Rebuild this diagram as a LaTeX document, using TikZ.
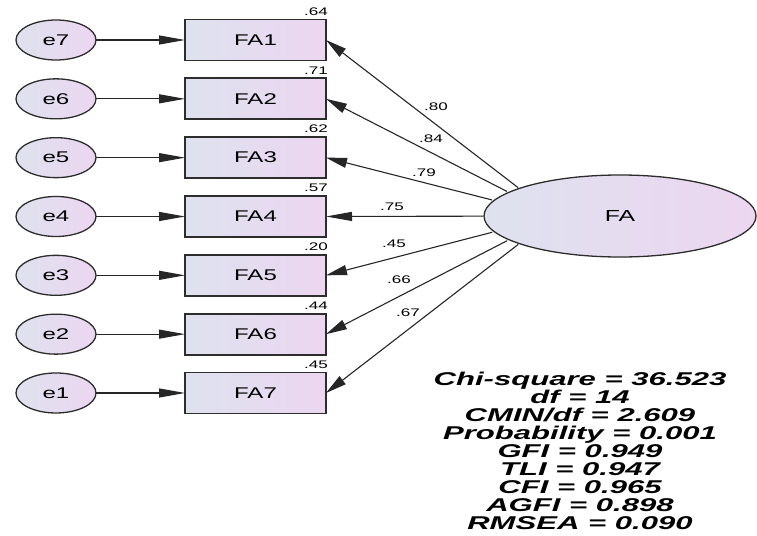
\documentclass[tikz,border=0pt]{standalone}
\usepackage{fontspec}
\setmainfont{Liberation Sans}
\newfontfamily\wide[FakeStretch=1.55]{Liberation Sans}
\newfontfamily\statwide[FakeStretch=1.68]{Liberation Sans}
\usetikzlibrary{shapes.geometric,arrows.meta}
\definecolor{fl}{RGB}{222,226,239}
\definecolor{fr}{RGB}{236,214,240}
\definecolor{edgec}{RGB}{45,45,45}
\tikzset{
  err/.style={ellipse, draw=edgec, line width=1.3pt, left color=fl, right color=fr,
    minimum width=80pt, minimum height=40pt, inner sep=0pt, outer sep=0pt,
    font=\wide\fontsize{15.5}{15.5}\selectfont},
  obs/.style={rectangle, draw=edgec, line width=1.8pt, left color=fl, right color=fr,
    minimum width=141pt, minimum height=41pt, inner sep=0pt, outer sep=0pt,
    font=\wide\fontsize{15.5}{15.5}\selectfont},
  lat/.style={ellipse, draw=edgec, line width=1.3pt, left color=fl, right color=fr,
    minimum width=272pt, minimum height=82pt, inner sep=0pt, outer sep=0pt,
    font=\wide\fontsize{16}{16}\selectfont},
  arr/.style={-{Triangle[length=26pt,width=9pt]}, line width=1.1pt, draw=black!85},
  darr/.style={-{Triangle[length=21pt,width=10pt]}, line width=1.1pt, draw=black!85},
  coef/.style={font=\wide\fontsize{11}{11}\selectfont, inner sep=1pt},
  stats/.style={align=center, inner sep=0pt,
    font=\statwide\bfseries\itshape\fontsize{18.5}{18}\selectfont}
}
\begin{document}
\begin{tikzpicture}[x=1pt,y=-1pt]
\useasboundingbox (0,0) rectangle (757,535);
% latent
\node[lat] (FA) at (620,216) {FA};
\node[ellipse, minimum width=144pt, minimum height=66pt, inner sep=0pt, outer sep=0pt] (hub) at (555,216) {};
% indicators
\foreach \i/\e/\r in {1/7/.64, 2/6/.71, 3/5/.62, 4/4/.57, 5/3/.20, 6/2/.44, 7/1/.45}{
  \node[obs] (FA\i) at (255.5,{40+58.83*(\i-1)}) {FA\i};
  \node[err] (e\e) at (56,{40+58.83*(\i-1)}) {e\e};
  \node[coef, anchor=south east] (r\i) at ([xshift=3pt,yshift=3pt]FA\i.north east) {\r};
  \draw[arr] (e\e) -- (FA\i);
}
\foreach \i in {1,2,3,5,6,7}{
  \draw[darr] (hub) -- (FA\i.east);
}
\draw[arr] (hub) -- (FA4.east);
% path coefficients
\node[coef] (p1) at (436,107) {.80};
\node[coef] (p2) at (431,139) {.84};
\node[coef] (p3) at (424,173) {.79};
\node[coef] (p4) at (392,207) {.75};
\node[coef] (p5) at (394,244) {.45};
\node[coef] (p6) at (399,280) {.66};
\node[coef] (p7) at (408,313) {.67};
% fit statistics
\node[stats, anchor=base] (fit) at (580,529) {Chi-square = 36.523\\ df = 14\\ CMIN/df = 2.609\\ Probability = 0.001\\ GFI = 0.949\\ TLI = 0.947\\ CFI = 0.965\\ AGFI = 0.898\\ RMSEA = 0.090};
\end{tikzpicture}
\end{document}
